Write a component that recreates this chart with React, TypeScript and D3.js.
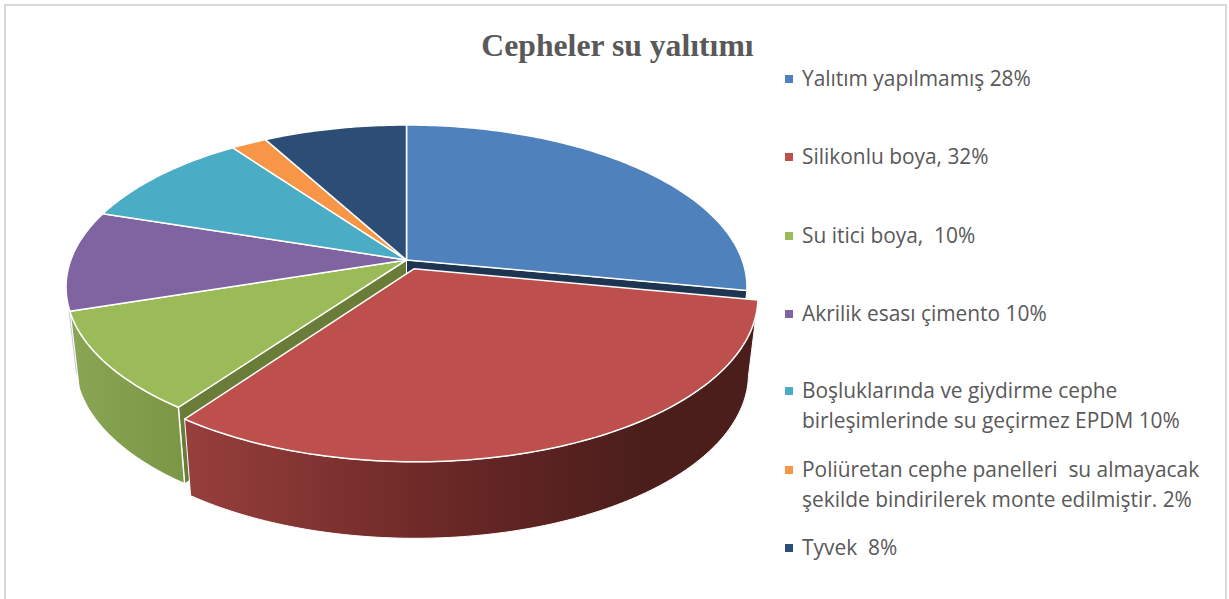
import React from "react";
import * as d3 from "d3";

const title = "Cepheler su yalıtımı";
const values = [28, 32, 10, 10, 10, 2, 8];
const legendLines = [
  ["Yalıtım yapılmamış 28%"],
  ["Silikonlu boya, 32%"],
  ["Su itici boya,  10%"],
  ["Akrilik esası çimento 10%"],
  ["Boşluklarında ve giydirme cephe", "birleşimlerinde su geçirmez EPDM 10%"],
  ["Poliüretan cephe panelleri  su almayacak", "şekilde bindirilerek monte edilmiştir. 2%"],
  ["Tyvek  8%"],
];
const legendY = [79, 157, 236, 314, 391, 470, 548];
const colors = ["#4f81bd", "#bd4f4c", "#9bbb59", "#8064a2", "#4bacc6", "#f79646", "#2c4d75"];

const W = 1229, H = 599;
const cx = 406.5, cy = 260, A = 335.7, B = 157.5, K = 0.1667;
const EXPLODE = 0.06, DEPTH = 76.5, SHRINK = 0.973;

type P = [number, number];

const pie = d3.pie<number>().sort(null).value((d) => d);
const arcs = pie(values);

function project(a: number, r: number, ox = 0, oy = 0, bottom = false): P {
  const u = r * Math.sin(a) + ox;
  const v = -r * Math.cos(a) + oy;
  const w = 1 - K * v;
  let x = cx + (A * u) / w;
  let y = cy + (B * v) / w;
  if (bottom) {
    x = cx + SHRINK * (x - cx);
    y = y + DEPTH;
  }
  return [x, y];
}

const lineGen = d3.line<P>();
function sample(a0: number, a1: number, ox = 0, oy = 0, bottom = false): P[] {
  const n = Math.max(8, Math.ceil(Math.abs(a1 - a0) * 60));
  return d3.range(n + 1).map((i) => project(a0 + ((a1 - a0) * i) / n, 1, ox, oy, bottom));
}
function topPath(a0: number, a1: number, ox = 0, oy = 0) {
  return lineGen([project(0, 0, ox, oy), ...sample(a0, a1, ox, oy)]) + "Z";
}
function outerWall(a0: number, a1: number, ox = 0, oy = 0) {
  return lineGen([...sample(a0, a1, ox, oy), ...sample(a1, a0, ox, oy, true)]) + "Z";
}
function radialWall(a: number, ox = 0, oy = 0) {
  return (
    lineGen([
      project(0, 0, ox, oy),
      project(a, 1, ox, oy),
      project(a, 1, ox, oy, true),
      project(0, 0, ox, oy, true),
    ]) + "Z"
  );
}

const red = arcs[1];
const mid = (red.startAngle + red.endAngle) / 2;
const ox = EXPLODE * Math.sin(mid);
const oy = -EXPLODE * Math.cos(mid);

const FONT = "'Open Sans', 'Noto Sans', sans-serif";

export default function App() {
  const green = arcs[2];
  const blue = arcs[0];
  const sliverTop = project(green.endAngle, 1);
  const sliverEnd = d3.interpolateArray(sliverTop, project(green.endAngle, 1, 0, 0, true))(0.82) as number[];
  return (
    <svg width={W} height={H} style={{ position: "absolute", left: 0, top: 0, background: "#fff" }}>
      <defs>
        <linearGradient id="redWall" gradientUnits="userSpaceOnUse" x1={186} x2={640} y1={0} y2={0}>
          <stop offset="0" stopColor="#973f3c" />
          <stop offset="0.6" stopColor="#682725" />
          <stop offset="1" stopColor="#4b1e1c" />
        </linearGradient>
        <linearGradient id="greenWall" gradientUnits="userSpaceOnUse" x1={70} x2={186} y1={0} y2={0}>
          <stop offset="0" stopColor="#8aa655" />
          <stop offset="1" stopColor="#7a9745" />
        </linearGradient>
      </defs>
      <rect x={5} y={5} width={1221} height={610} fill="#fff" stroke="#d9d9d9" strokeWidth={2} />

      <path d={radialWall(blue.endAngle)} fill="#1d3550" stroke="#fff" strokeWidth={1} />
      <path d={radialWall(green.startAngle)} fill="#697d39" stroke="#fff" strokeWidth={1} />
      <path d={outerWall(green.startAngle, green.endAngle)} fill="url(#greenWall)" stroke="#fff" strokeWidth={1.5} />
      <line
        x1={sliverTop[0] - 0.8}
        y1={sliverTop[1]}
        x2={sliverEnd[0] - 0.8}
        y2={sliverEnd[1]}
        stroke="#c9c5dd"
        strokeWidth={1}
      />

      {arcs.map((a, i) =>
        i === 1 ? null : (
          <path key={i} d={topPath(a.startAngle, a.endAngle)} fill={colors[i]} stroke="#fff" strokeWidth={1.5} strokeLinejoin="round" />
        )
      )}

      <path d={outerWall(red.startAngle, red.endAngle, ox, oy)} fill="url(#redWall)" stroke="#fff" strokeWidth={1} />
      <path d={topPath(red.startAngle, red.endAngle, ox, oy)} fill={colors[1]} stroke="#fff" strokeWidth={1.5} strokeLinejoin="round" />

      <text x={617.5} y={56} textAnchor="middle" fontFamily="'Liberation Serif', serif" fontWeight="bold" fontSize={31.7} fill="#595959">
        {title}
      </text>

      {legendLines.map((lines, i) => (
        <g key={i}>
          <rect x={785} y={legendY[i] - 4} width={8} height={8} fill={colors[i]} />
          {lines.map((t, j) => (
            <text
              key={j}
              x={802}
              y={legendY[i] + 7 + j * 30}
              fontFamily={FONT}
              fontSize={20.9}
              fill="#595959"
              style={{ whiteSpace: "pre" }}
            >
              {t}
            </text>
          ))}
        </g>
      ))}
    </svg>
  );
}
